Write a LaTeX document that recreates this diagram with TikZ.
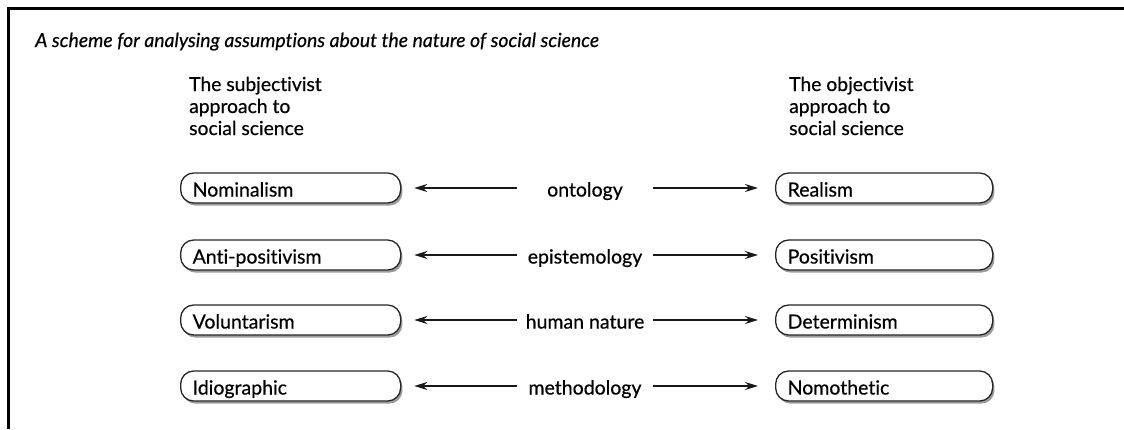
\documentclass[tikz,border=0pt]{standalone}
\usepackage{fontspec}
\setmainfont{Lato}[Ligatures=NoCommon, FakeBold=0.5]
\usetikzlibrary{arrows.meta,shadows}

\tikzset{
  frameline/.style={line width=2.6pt, black},
  conceptbox/.style={draw=black!85, line width=1.3pt, rounded corners=13pt,
    minimum height=30pt, fill=white, align=left, anchor=west,
    inner xsep=12pt, inner ysep=0pt, text=black,
    text height=17pt, text depth=0pt,
    font=\fontsize{19.5}{22}\selectfont,
    drop shadow={shadow xshift=1.8pt, shadow yshift=-2.6pt, fill=black!55, opacity=0.7}},
  leftbox/.style={conceptbox, minimum width=220pt, text width=196pt},
  rightbox/.style={conceptbox, minimum width=217pt, text width=193pt},
  dimlabel/.style={font=\fontsize{19.5}{22}\selectfont, text=black, inner sep=0pt,
    text height=17pt, text depth=0pt},
  heading/.style={font=\fontsize{19.3}{22}\selectfont, text=black, align=left,
    anchor=base west, inner sep=0pt},
  twoway/.style={line width=1.6pt, black!90, -{Stealth[length=13pt,width=8pt]}},
}

\begin{document}
\begin{tikzpicture}[x=1pt,y=-1pt]
  \useasboundingbox (0,0) rectangle (1124,429);

  % frame: top and left rules only
  \coordinate (fTL) at (8.7,8.7);
  \coordinate (fTR) at (1124,8.7);
  \coordinate (fBL) at (8.7,429);
  \draw[frameline] (fTR) -- (fTL) -- (fBL);

  % title
  \node[anchor=base west, inner sep=0pt, text=black,
        font=\itshape\fontsize{19.4}{22}\selectfont] (title) at (35,47)
    {A scheme for analysing assumptions about the nature of social science};

  % column headings (anchored at the baseline of their last line)
  \node[heading] (hsub) at (189,135)
    {The subjectivist\\approach to\\social science};
  \node[heading] (hobj) at (789,135)
    {The objectivist\\approach to\\social science};

  % rows
  \foreach \i/\y/\lft/\mid/\rgt in {
      1/188/Nominalism/ontology/Realism,
      2/255/Anti-positivism/epistemology/Positivism,
      3/320/Voluntarism/human nature/Determinism,
      4/386/Idiographic/methodology/Nomothetic} {
    \node[leftbox]  (L\i) at (180,\y) {\lft};
    \node[rightbox] (R\i) at (775,\y) {\rgt};
    \node[dimlabel] (M\i) at (585,\y) {\mid};
    \coordinate (ls\i) at (517,\y);
    \coordinate (rs\i) at (653,\y);
    \draw[twoway, shorten >=13pt] (ls\i) -- (L\i.east);
    \draw[twoway, shorten >=17pt] (rs\i) -- (R\i.west);
  }
\end{tikzpicture}
\end{document}
